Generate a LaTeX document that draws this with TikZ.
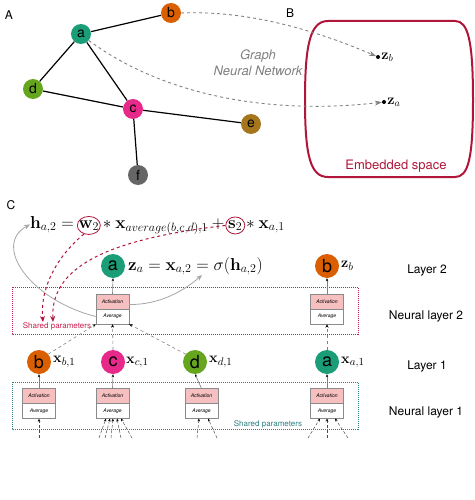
\documentclass[tikz,border=0pt]{standalone}
\usepackage[no-math]{fontspec}
\setmainfont{TeX Gyre Heros}
\usetikzlibrary{arrows.meta,shapes.geometric}
\definecolor{cA}{HTML}{1B9E77}
\definecolor{cB}{HTML}{D95F02}
\definecolor{cC}{HTML}{E7298A}
\definecolor{cD}{HTML}{66A61E}
\definecolor{cE}{HTML}{A6761D}
\definecolor{cF}{HTML}{666666}
\definecolor{embred}{HTML}{B0163A}
\definecolor{dotred}{HTML}{C8204F}
\definecolor{dotteal}{HTML}{2E7F80}
\definecolor{actpink}{HTML}{F6BFC0}
\definecolor{boxgray}{HTML}{8A8A8A}
\begin{document}
\begin{tikzpicture}[x=1pt,y=-1pt,
  gnode/.style={circle, fill=#1, minimum size=20pt, inner sep=0pt, font=\fontsize{14}{14}\selectfont},
  cnode/.style={circle, fill=#1, minimum size=24pt, inner sep=0pt, font=\fontsize{18}{18}\selectfont},
  gedge/.style={line width=1.2pt, black},
  gnn/.style={dashed, gray, line width=0.9pt, -{Stealth[length=7pt,width=5pt]}},
  actbox/.style={draw=boxgray, fill=actpink, minimum width=33pt, minimum height=15pt, inner sep=0pt, font=\fontsize{5}{5}\selectfont\itshape},
  avgbox/.style={draw=boxgray, fill=white, minimum width=33pt, minimum height=15pt, inner sep=0pt, font=\fontsize{5}{5}\selectfont\itshape},
  up/.style={gray, line width=0.6pt, -{Stealth[length=3pt,width=2.5pt,black]}},
  feed/.style={gray, dashed, line width=0.6pt, -{Stealth[length=3.5pt,width=3pt,black]}},
  inarr/.style={black!70, densely dashed, line width=0.5pt, -{Stealth[length=3pt,width=2.5pt,black]}},
  lab/.style={font=\fontsize{12}{12}\selectfont},
  eq/.style={inner sep=0pt, outer sep=0pt, font=\fontsize{17}{17}\selectfont},
  mlab/.style={anchor=west, inner sep=0pt, font=\fontsize{15}{15}\selectfont},
  reddash/.style={embred, dashed, line width=1pt, -{Stealth[length=6pt,width=5pt]}},
  curv/.style={gray!70, line width=0.8pt, -{Stealth[length=6pt,width=5pt]}},
  pt/.style={circle, fill=black, minimum size=4pt, inner sep=0pt}
]
\useasboundingbox (0,0) rectangle (474,500);

% ---------- A ----------
\node[lab] (labA) at (9,15) {A};
\node[gnode=cA] (a) at (81,34) {a};
\node[gnode=cB] (b) at (171,13) {b};
\node[gnode=cD] (d) at (33,89) {d};
\node[gnode=cC] (c) at (133,109) {c};
\node[gnode=cE] (e) at (251,124) {e};
\node[gnode=cF] (f) at (138,175) {f};
\draw[gedge] (a) -- (b);
\draw[gedge] (a) -- (d);
\draw[gedge] (a) -- (c);
\draw[gedge] (d) -- (c);
\draw[gedge] (c) -- (e);
\draw[gedge] (c) -- (f);

\node[font=\fontsize{13}{16}\selectfont\itshape, text=gray, align=center] (gnntext) at (258,63) {Graph\\Neural Network};

% ---------- B ----------
\node[lab] (labB) at (290,13) {B};
\draw[embred, line width=2pt] (328,21) -- (455,21)
  .. controls (468,21) and (473,40) .. (473,100)
  .. controls (473,160) and (468,177) .. (455,177) -- (328,177)
  .. controls (310,177) and (305,155) .. (305,100)
  .. controls (305,45) and (310,21) .. (328,21) -- cycle;
\node[font=\fontsize{13}{13}\selectfont, text=embred] (embtext) at (396,166) {Embedded space};
\node[pt] (zb) at (378,57) {};
\node[anchor=west, inner sep=1pt, font=\fontsize{14}{14}\selectfont] (zblab) at (zb.east) {$\mathbf{z}_b$};
\node[pt] (za) at (384,102) {};
\node[anchor=west, inner sep=1pt, font=\fontsize{14}{14}\selectfont] (zalab) at (za.east) {$\mathbf{z}_a$};
\draw[gnn] (b.east) .. controls (250,10) and (320,32) .. (zb);
\draw[gnn] (a.-40) .. controls (170,100) and (280,114) .. (za);

% ---------- C ----------
\node[lab] (labC) at (11,205) {C};

\node[eq, anchor=base west] (e1) at (30,228) {$\mathbf{h}_{a,2} = {}$};
\node[eq, anchor=base west] (w2) at (e1.base east) {$\mathbf{w}_2$};
\node[eq, anchor=base west] (e2) at (w2.base east) {${}*\mathbf{x}_{average(b,c,d),1} + {}$};
\node[eq, anchor=base west] (s2) at (e2.base east) {$\mathbf{s}_2$};
\node[eq, anchor=base west] (e3) at (s2.base east) {${}*\mathbf{x}_{a,1}$};
\node[draw=embred, ellipse, minimum width=23pt, minimum height=18pt, inner sep=0pt, line width=0.8pt] (w2c) at (w2.center) {};
\node[draw=embred, ellipse, minimum width=19pt, minimum height=17pt, inner sep=0pt, line width=0.8pt] (s2c) at (s2.center) {};

% neural layer frames
\draw[dotred, densely dotted, line width=1pt] (12,287) rectangle (358,334);
\draw[dotteal, densely dotted, line width=1pt] (12,382) rectangle (358,429);
\node[font=\fontsize{8}{8}\selectfont, text=dotred] (sp2) at (57,326) {Shared parameters};
\node[font=\fontsize{8}{8}\selectfont, text=dotteal] (sp1) at (268,424) {Shared parameters};

% layer 2
\node[cnode=cA] (n2a) at (113,266) {a};
\node[cnode=cB] (n2b) at (327,266) {b};
\node[mlab, font=\fontsize{16.5}{16.5}\selectfont] (za2) at (128,266) {$\mathbf{z}_a = \mathbf{x}_{a,2} = \sigma(\mathbf{h}_{a,2})$};
\node[mlab] (zb2) at (341,266) {$\mathbf{z}_b$};

\node[actbox] (act2a) at (112.5,301.5) {Activation};
\node[avgbox] (avg2a) at (112.5,316.5) {Average};
\node[actbox] (act2b) at (327,301.5) {Activation};
\node[avgbox] (avg2b) at (327,316.5) {Average};
\draw[up] (act2a.north) -- (n2a.south);
\draw[up] (act2b.north) -- (n2b.south);

% layer 1
\node[cnode=cB] (n1b) at (39,362) {b};
\node[cnode=cC] (n1c) at (113,362) {c};
\node[cnode=cD] (n1d) at (195,362) {d};
\node[cnode=cA] (n1a) at (327,362) {a};
\node[mlab] (x1b) at (53,362) {$\mathbf{x}_{b,1}$};
\node[mlab] (x1c) at (126,362) {$\mathbf{x}_{c,1}$};
\node[mlab] (x1d) at (209,362) {$\mathbf{x}_{d,1}$};
\node[mlab] (x1a) at (341,362) {$\mathbf{x}_{a,1}$};

\node[actbox] (act1b) at (39,396) {Activation};
\node[avgbox] (avg1b) at (39,411) {Average};
\node[actbox] (act1c) at (112.5,396) {Activation};
\node[avgbox] (avg1c) at (112.5,411) {Average};
\node[actbox] (act1d) at (201.5,396) {Activation};
\node[avgbox] (avg1d) at (201.5,411) {Average};
\node[actbox] (act1a) at (327,396) {Activation};
\node[avgbox] (avg1a) at (327,411) {Average};
\draw[up] (act1b.north) -- (n1b.south);
\draw[up] (act1c.north) -- (n1c.south);
\draw[up] (act1d.north) -- (n1d.south);
\draw[up] (act1a.north) -- (n1a.south);

% layer 1 -> neural layer 2
\draw[feed] (n1b.40) -- (avg2a.south west);
\draw[feed] (n1c.north) -- (avg2a.south);
\draw[feed] (n1d.140) -- (avg2a.south east);
\draw[feed] (n1a.north) -- (avg2b.south);

% inputs into neural layer 1
\coordinate (ib1) at (39,438);
\draw[inarr] (ib1) -- (avg1b.south);
\foreach \sx/\tx [count=\i] in {99/106,105/110,111/113,121/117,132/121}{
  \coordinate (ic\i) at (\sx,438);
  \coordinate (tc\i) at (\tx,418.5);
  \draw[inarr] (ic\i) -- (tc\i);
}
\foreach \sx/\tx [count=\i] in {197/199,217/208}{
  \coordinate (id\i) at (\sx,438);
  \coordinate (td\i) at (\tx,418.5);
  \draw[inarr] (id\i) -- (td\i);
}
\foreach \sx/\tx [count=\i] in {308/320,327/327,348/335}{
  \coordinate (ia\i) at (\sx,438);
  \coordinate (ta\i) at (\tx,418.5);
  \draw[inarr] (ia\i) -- (ta\i);
}

% gray curved arrows
\draw[curv] (avg2a.west) .. controls (30,300) and (-8,245) .. (e1.west);
\draw[curv] ([yshift=-3pt]act2a.east) .. controls (160,305) and (185,290) .. (202,275);

% red dashed arrows (shared parameters)
\draw[reddash] (w2c.240) .. controls (55,258) and (40,290) .. (43,322);
\draw[reddash] (s2c.west) .. controls (120,238) and (50,262) .. (53,322);

% layer labels
\node[lab] (L2) at (427,270) {Layer 2};
\node[lab] (NL2) at (426,316) {Neural layer 2};
\node[lab] (L1) at (427,366) {Layer 1};
\node[lab] (NL1) at (426,412) {Neural layer 1};
\end{tikzpicture}
\end{document}
